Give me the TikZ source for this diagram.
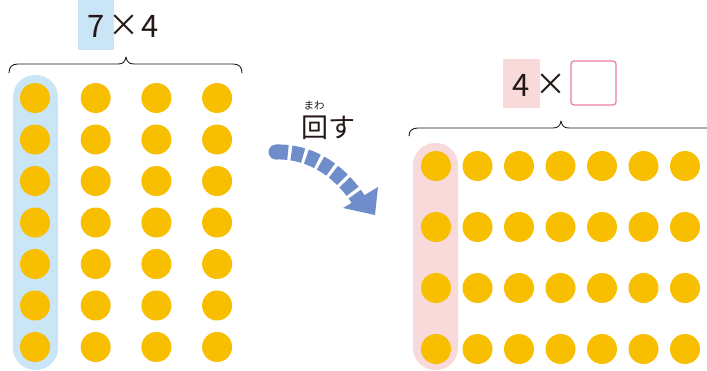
\documentclass[tikz,border=0pt]{standalone}
\usepackage{fontspec}
\newfontfamily\jp{Noto Sans CJK JP}
\definecolor{dotyel}{HTML}{F8BE00}
\definecolor{hlblue}{HTML}{C9E5F6}
\definecolor{hlpink}{HTML}{F9DADB}
\definecolor{boxpink}{HTML}{E97C9C}
\definecolor{arrblue}{HTML}{6E8DCA}
\definecolor{ink}{HTML}{231815}
\begin{document}
\begin{tikzpicture}[x=1pt,y=-1pt,
  dot/.style={circle,fill=dotyel,minimum size=30pt,inner sep=0pt},
  num/.style={font=\jp\fontsize{31}{31}\selectfont,text=ink,inner sep=0pt},
  bracestyle/.style={draw=ink,line width=0.9pt,line cap=round,line join=round}]
\useasboundingbox (0,0) rectangle (707,370);
% highlights
\fill[hlblue,rounded corners=22pt] (13,75) rectangle (58,370);
\fill[hlpink,rounded corners=22pt] (413,143) rectangle (458,370);
% left dots
\foreach \c in {0,...,3}
  \foreach \r in {0,...,6}
    \node[dot] (L\c\r) at ({35+\c*60.7},{98+\r*41.5}) {};
% right dots
\foreach \c in {0,...,6}
  \foreach \r in {0,...,3}
    \node[dot] (R\c\r) at ({436+\c*41.5},{166+\r*61}) {};
% left label
\fill[hlblue] (78,0) rectangle (114,50);
\node[num] (l7) at (96,26) {7};
\node[num] (lx) at (124,26) {×};
\node[num] (l4) at (150,26) {4};
% left brace
\path[bracestyle] (9,73) .. controls (9,67) and (12,64) .. (18,64) -- (118,64)
  .. controls (123,64) and (125,62) .. (126,57) .. controls (127,62) and (129,64) .. (134,64)
  -- (233,64) .. controls (239,64) and (242,67) .. (242,73);
% right label
\fill[hlpink] (503,59) rectangle (540,108);
\node[num] (r4) at (521,85) {4};
\node[num] (rx) at (551,85) {×};
\draw[boxpink,line width=1.2pt,rounded corners=3pt] (571,61) rectangle (616,105);
% right brace
\path[bracestyle] (409,136) .. controls (409,131) and (412,128) .. (418,128) -- (553,128)
  .. controls (558,128) and (560,126) .. (561,121) .. controls (562,126) and (564,128) .. (569,128)
  -- (707,128);
% rotate text
\node[font=\jp\fontsize{27}{27}\selectfont,text=ink,inner sep=0pt,anchor=west] (mawasu) at (301,128) {回す};
\node[font=\jp\fontsize{10.5}{10.5}\selectfont,text=ink,inner sep=0pt] (ruby) at (314,106) {まわ};
% arrow
\coordinate (a0) at (276,152);
\coordinate (a1) at (360,202);
\fill[arrblue] (a0) circle[radius=7.5];
\draw[arrblue,line width=15pt,dash pattern=on 12pt off 3.5pt] (a0) .. controls (310,151) and (340,170) .. (a1);
\fill[arrblue,line join=round] (378,187) -- (375,215) -- (343,208) -- cycle;
\end{tikzpicture}
\end{document}
